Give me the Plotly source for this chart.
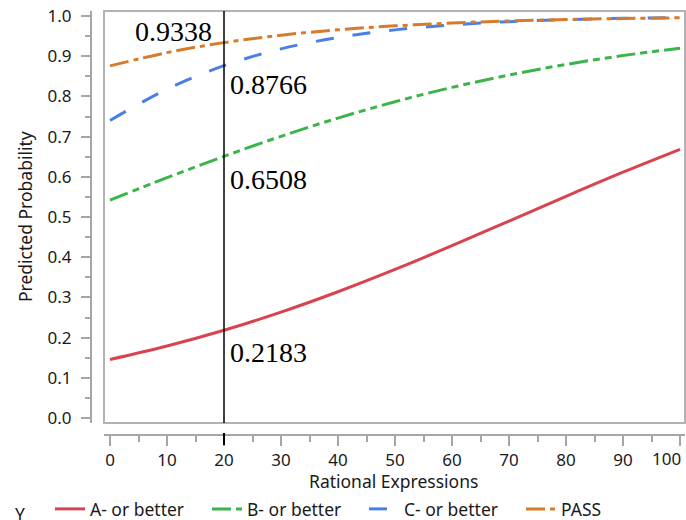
import plotly.graph_objects as go

# Predicted probability of each outcome vs. Rational Expressions score
rational_expressions = [0, 10, 20, 30, 40, 50, 60, 70, 80, 90, 100]
a_or_better = [0.1456, 0.1791, 0.2183, 0.2634, 0.3140, 0.3695, 0.4286, 0.4899, 0.5514, 0.6114, 0.6683]
b_or_better = [0.5420, 0.5977, 0.6508, 0.7007, 0.7461, 0.7867, 0.8224, 0.8532, 0.8795, 0.9016, 0.9200]
c_or_better = [0.7400, 0.8180, 0.8766, 0.9182, 0.9466, 0.9655, 0.9779, 0.9859, 0.9910, 0.9943, 0.9964]
pass_prob = [0.8760, 0.9089, 0.9338, 0.9522, 0.9657, 0.9755, 0.9825, 0.9876, 0.9912, 0.9937, 0.9956]

series_names = ["A- or better", "B- or better", "C- or better", "PASS"]
series_values = [a_or_better, b_or_better, c_or_better, pass_prob]

x_ticks = list(range(0, 101, 10))
y_ticks = [i / 10 for i in range(11)]

# Crosshair position and the values it reads off
cross_x = 20
cross_values = [a_or_better[2], b_or_better[2], c_or_better[2], pass_prob[2]]

W, H = 686, 520
colors = ["#D9434F", "#3CB44A", "#4A80E6", "#D77B2A"]
dashes = ["solid", "19px,5px,7px,5px,7px,5px", "18px,19px", "19px,5px,5px,5px"]

fig = go.Figure()
for name, vals, col, dash in zip(series_names, series_values, colors, dashes):
    fig.add_trace(go.Scatter(
        x=rational_expressions, y=vals, mode="lines", name=name,
        line=dict(color=col, width=3, dash=dash, shape="spline", smoothing=1.0),
    ))


# pixel helpers (paper coordinates with zero margins)
def px_x(p):
    return p / W


def px_y(p):
    return 1 - p / H


frame_l, frame_r, frame_t, frame_b = 104, 685, 11, 423
x0_px, x100_px = 110, 680
unit = (x100_px - x0_px) / 100.0
xr = [(frame_l - x0_px) / unit, (frame_r - x0_px) / unit]
y0_px, y1_px = 418, 16
yunit = (y0_px - y1_px)
yr = [(y0_px - frame_b) / yunit, (y0_px - frame_t) / yunit]

axis_gray = "#A6A6A6"
text_col = "#1a1a1a"
tick_font = dict(family="Noto Sans", size=17, color=text_col)

# the last x label is pinned inside the right edge separately
x_ticktext = [str(v) for v in x_ticks[:-1]] + [""]

fig.update_layout(
    width=W, height=H,
    margin=dict(l=0, r=0, t=0, b=0, autoexpand=False),
    paper_bgcolor="white", plot_bgcolor="white",
    showlegend=True,
    legend=dict(
        orientation="h", x=px_x(50), y=px_y(509), xanchor="left", yanchor="middle",
        font=dict(family="Noto Sans", size=17.5, color=text_col),
        entrywidth=112, entrywidthmode="pixels",
        bgcolor="rgba(0,0,0,0)", borderwidth=0, itemclick=False,
    ),
    xaxis=dict(
        domain=[px_x(frame_l), px_x(frame_r)], range=xr,
        anchor="free", position=px_y(435),
        showline=True, linecolor=axis_gray, linewidth=2,
        showgrid=False, zeroline=False,
        tickmode="array", tickvals=x_ticks, ticktext=x_ticktext,
        ticks="outside", ticklen=10, tickwidth=2, tickcolor=axis_gray,
        tickfont=tick_font, ticklabelstandoff=0,
        minor=dict(dtick=5, tick0=0, ticks="outside", ticklen=6, tickwidth=2, tickcolor=axis_gray, showgrid=False),
        automargin=False, fixedrange=True,
    ),
    yaxis=dict(
        domain=[px_y(frame_b), px_y(frame_t)], range=yr,
        anchor="free", position=px_x(91),
        showline=True, linecolor=axis_gray, linewidth=2,
        showgrid=False, zeroline=False,
        tickmode="array", tickvals=y_ticks,
        ticktext=[f"{v:.1f}" for v in y_ticks],
        ticks="outside", ticklen=9, tickwidth=2, tickcolor=axis_gray,
        tickfont=tick_font, ticklabelstandoff=6,
        minor=dict(dtick=0.05, tick0=0, ticks="outside", ticklen=5, tickwidth=2, tickcolor=axis_gray, showgrid=False),
        automargin=False, fixedrange=True,
    ),
)

# last x tick label, kept inside the page
fig.add_annotation(text=str(x_ticks[-1]), xref="x", yref="paper", x=x_ticks[-1], y=px_y(458),
                   xanchor="right", yanchor="middle", xshift=3, showarrow=False, font=tick_font)

# plot frame
fig.add_shape(type="rect", xref="paper", yref="paper",
              x0=px_x(frame_l), x1=px_x(frame_r), y0=px_y(frame_b), y1=px_y(frame_t),
              line=dict(color="#B3B3B3", width=2), layer="above")

# crosshair line and its marker on the x axis
fig.add_shape(type="line", xref="x", yref="paper", x0=cross_x, x1=cross_x,
              y0=px_y(frame_b), y1=px_y(frame_t), line=dict(color="black", width=1.5))
fig.add_shape(type="line", xref="x", yref="paper", x0=cross_x, x1=cross_x,
              y0=px_y(433), y1=px_y(445), line=dict(color="black", width=2))

# crosshair value labels
label_font = dict(family="Liberation Serif", size=28, color="black")
offsets = [(4, -22, "left"), (4, -23, "left"), (4, -19, "left"), (-10, 11, "right")]
for val, (dx, dy, anchor) in zip(cross_values, offsets):
    fig.add_annotation(x=cross_x, y=val, xref="x", yref="y", text=f"{val:.4f}",
                       showarrow=False, xanchor=anchor, yanchor="middle",
                       xshift=dx, yshift=dy, font=label_font)

# axis titles and legend title
fig.add_annotation(text="Predicted Probability", xref="paper", yref="paper",
                   x=px_x(25), y=px_y(217), textangle=-90, showarrow=False,
                   xanchor="center", yanchor="middle",
                   font=dict(family="Noto Sans", size=17.5, color=text_col))
fig.add_annotation(text="Rational Expressions", xref="paper", yref="paper",
                   x=px_x(394), y=px_y(481), showarrow=False,
                   xanchor="center", yanchor="middle",
                   font=dict(family="Noto Sans", size=17.5, color=text_col))
fig.add_annotation(text="Y", xref="paper", yref="paper",
                   x=px_x(13), y=px_y(514), showarrow=False,
                   xanchor="left", yanchor="middle",
                   font=dict(family="Noto Sans", size=17.5, color=text_col))

fig.write_html("out.html")
